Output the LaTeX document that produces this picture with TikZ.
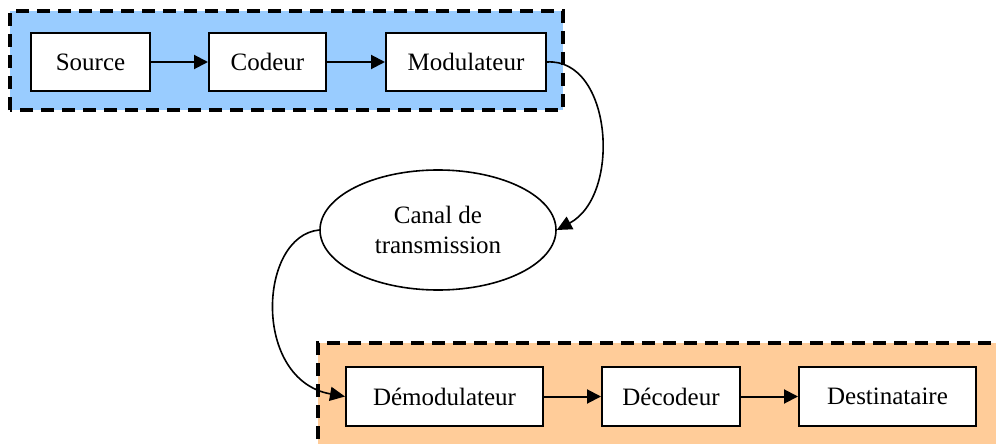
\documentclass[tikz,border=0pt]{standalone}
\usepackage{fontspec}
\setmainfont{Liberation Serif}
\usetikzlibrary{arrows.meta,shapes.geometric}
\definecolor{bluefill}{HTML}{99CCFF}
\definecolor{orangefill}{HTML}{FFCC99}
\tikzset{
  blockbox/.style={draw=black, line width=2pt, fill=white, inner sep=0pt, anchor=north west},
  groupbox/.style={line width=4.2pt, dash pattern=on 13pt off 8pt},
  flow/.style={line width=2pt, -{Triangle[length=14pt,width=14pt]}},
  curveflow/.style={line width=1.6pt, -{Triangle[length=15pt,width=14pt]}},
  lbl/.style={font=\fontsize{25}{30}\selectfont, align=center}
}
\begin{document}
\begin{tikzpicture}[x=1pt,y=-1pt]
\useasboundingbox (0,0) rectangle (996,444);
\clip (0,0) rectangle (996,444);
% groups
\fill[bluefill] (10,11) rectangle (563,110);
\draw[groupbox] (10,110) -- (10,11) -- (563,11) -- (563,110) -- cycle;
\fill[orangefill] (318,343) rectangle (1010,460);
\draw[groupbox] (318,460) -- (318,343) -- (1010,343);
% top row
\node[blockbox, minimum width=119pt, minimum height=58pt] (src) at (30,32) {};
\node[lbl] at (src.center) {Source};
\node[blockbox, minimum width=117pt, minimum height=58pt] (cod) at (208,32) {};
\node[lbl] at (cod.center) {Codeur};
\node[blockbox, minimum width=160pt, minimum height=58pt] (mod) at (385,32) {};
\node[lbl] at (mod.center) {Modulateur};
% channel
\node[draw, line width=1.6pt, ellipse, fill=white, minimum width=236pt, minimum height=120pt, inner sep=0pt] (can) at (438,230) {};
\node[lbl] at (can.center) {Canal de\\transmission};
% bottom row
\node[blockbox, minimum width=197pt, minimum height=59pt] (dem) at (345,366) {};
\node[lbl] at (dem.center) {Démodulateur};
\node[blockbox, minimum width=138pt, minimum height=59pt] (dec) at (601,366) {};
\node[lbl] at (dec.center) {Décodeur};
\node[blockbox, minimum width=177pt, minimum height=59pt] (dst) at (798,366) {};
\node[lbl] at (dst.center) {Destinataire};
% arrows
\draw[flow] (src.east) -- (cod.west);
\draw[flow] (cod.east) -- (mod.west);
\draw[flow] (dem.east) -- (dec.west);
\draw[flow] (dec.east) -- (dst.west);
\draw[curveflow] (mod.east) .. controls (612,58) and (622,195) .. (can.east);
\draw[curveflow] (can.west) .. controls (258,236) and (252,380) .. (dem.west);
\end{tikzpicture}
\end{document}
